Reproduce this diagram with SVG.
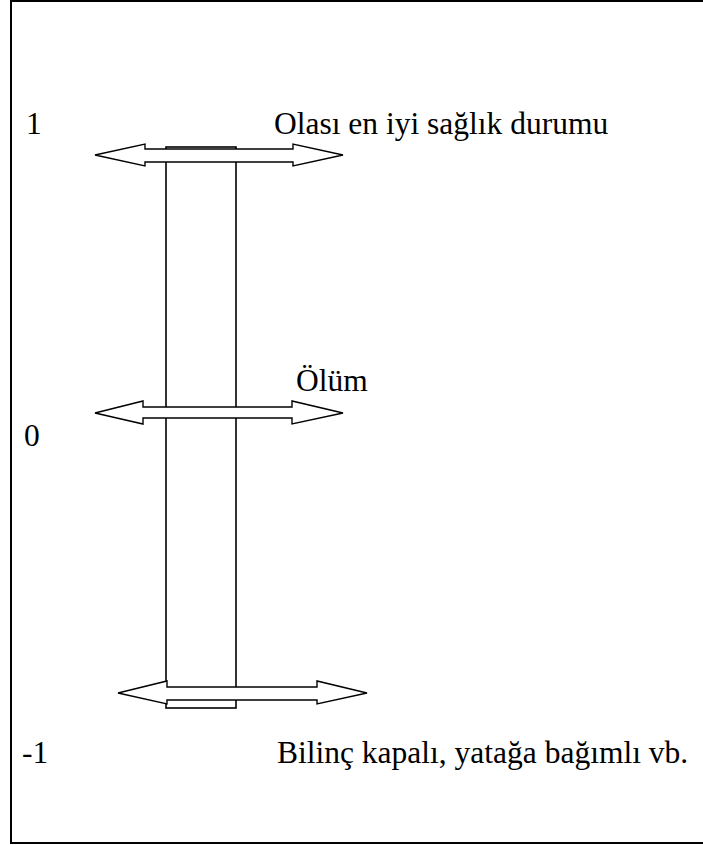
<svg xmlns="http://www.w3.org/2000/svg" width="703" height="845" viewBox="0 0 703 845">
<style>
.t{font-family:"Liberation Serif","Times New Roman",serif;font-size:31.5px;fill:#000}
.arr{fill:#fff;stroke:#000;stroke-width:1.4;stroke-linejoin:miter}
.col{fill:#fff;stroke:#000;stroke-width:1.6}
</style>
<rect x="11" y="1" width="700" height="842" fill="#fff" stroke="#000" stroke-width="2"/>
<g id="column"><rect class="col" x="166" y="147" width="70" height="561"/></g>
<g id="connectors">
<path class="arr" d="M95,155 L145,144 L145,149 L293,149 L293,144 L343,155 L293,166 L293,162 L145,162 L145,166 Z"/>
<path class="arr" d="M95,413 L143,401 L143,407 L292,407 L292,401 L343,413 L292,424 L292,418 L143,418 L143,424 Z"/>
<path class="arr" d="M118,693 L167,681 L167,687 L317,687 L317,681 L367,693 L317,704 L317,700 L167,700 L167,704 Z"/>
</g>
<g id="labels">
<text class="t" x="26" y="134">1</text>
<text class="t" x="274" y="134">Olası en iyi sağlık durumu</text>
<text class="t" x="296" y="391">Ölüm</text>
<text class="t" x="24" y="446">0</text>
<text class="t" x="22" y="763">-1</text>
<text class="t" x="277" y="763">Bilinç kapalı, yatağa bağımlı vb.</text>
</g>
</svg>
